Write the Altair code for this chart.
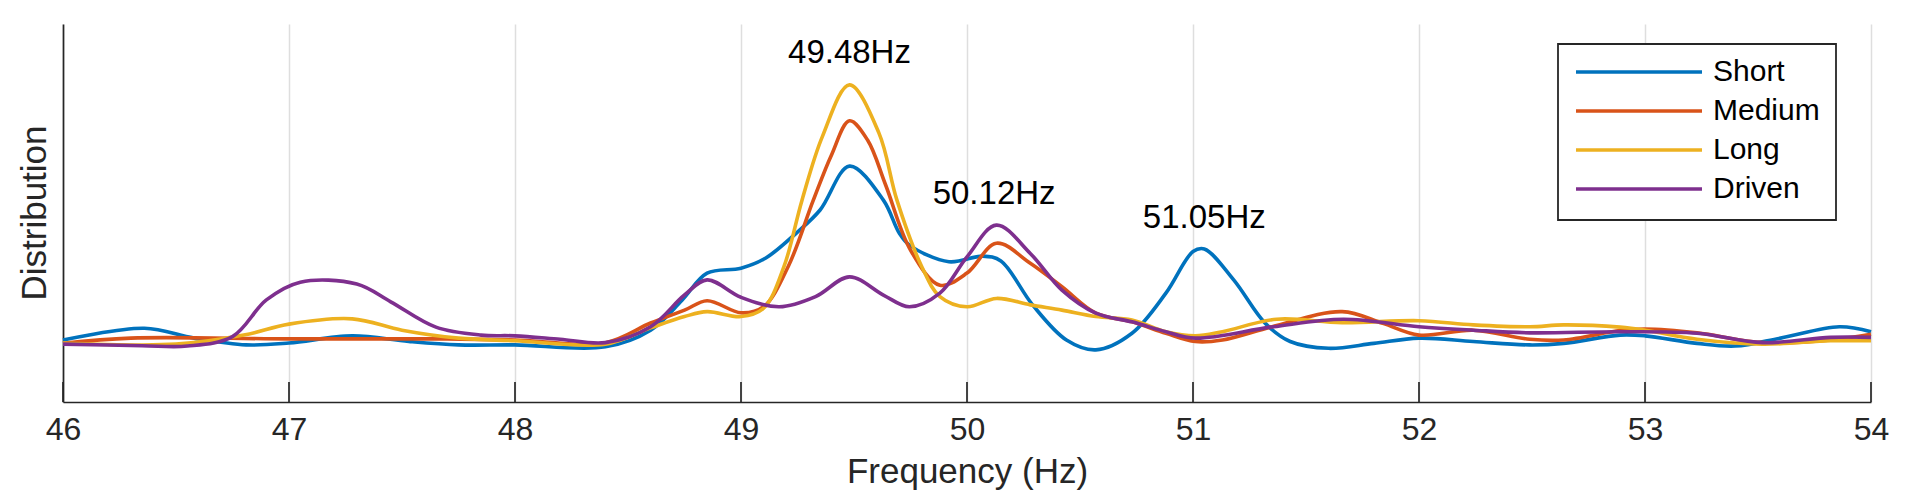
import altair as alt
import pandas as pd

# ---------------- data ----------------
series_names = ["Short", "Medium", "Long", "Driven"]
series_colors = ["#0072BD", "#D95319", "#EDB120", "#7E2F8E"]

short_freq = [46.0, 46.36, 46.58, 46.81, 47.0, 47.28, 47.53, 47.75, 48.0, 48.4,
              48.6, 48.74, 48.85, 49.0, 49.11, 49.245, 49.35, 49.48, 49.63, 49.70,
              49.745, 49.92, 50.07, 50.15, 50.29, 50.44, 50.57, 50.73, 50.88, 51.0,
              51.05, 51.18, 51.32, 51.43, 51.6, 51.8, 52.0, 52.24, 52.49, 52.64,
              52.89, 53.0, 53.23, 53.4, 53.6, 53.86, 54.0]
short_dist = [16.4, 19.5, 16.9, 15.1, 15.6, 17.5, 16.0, 15.1, 15.1, 14.6,
              19.0, 27.0, 34.1, 35.4, 38.1, 44.7, 50.8, 62.4, 53.4, 44.7,
              41.5, 37.1, 38.6, 37.3, 25.7, 16.4, 13.8, 18.2, 28.8, 39.8,
              40.5, 32.3, 20.8, 16.0, 14.2, 15.5, 16.9, 16.0, 15.1, 15.5,
              17.7, 17.5, 15.5, 14.8, 16.9, 19.9, 18.6]

medium_freq = [46.0, 46.3, 47.0, 47.7, 48.0, 48.4, 48.6, 48.75, 48.85, 49.0,
               49.1, 49.21, 49.32, 49.4, 49.48, 49.56, 49.64, 49.75, 49.88, 50.0,
               50.13, 50.28, 50.42, 50.57, 50.73, 50.88, 51.01, 51.13, 51.35, 51.66,
               51.84, 52.0, 52.24, 52.49, 52.64, 52.89, 53.0, 53.23, 53.52, 53.82, 54.0]
medium_dist = [15.5, 16.9, 16.7, 16.7, 16.4, 15.7, 20.9, 24.3, 26.8, 23.6,
               25.2, 36.0, 53.4, 65.3, 74.4, 69.3, 57.4, 40.2, 30.9, 34.1,
               42.0, 36.7, 30.5, 23.5, 21.2, 18.2, 16.0, 16.4, 19.9, 23.9,
               20.8, 17.7, 19.0, 16.6, 16.4, 18.9, 19.3, 18.3, 15.7, 16.4, 17.9]

long_freq = [46.0, 46.5, 46.8, 47.0, 47.28, 47.5, 47.75, 48.0, 48.4, 48.6,
             48.75, 48.85, 49.0, 49.1, 49.19, 49.27, 49.36, 49.48, 49.61, 49.69,
             49.80, 49.88, 50.0, 50.13, 50.28, 50.42, 50.57, 50.73, 50.88, 51.01,
             51.13, 51.37, 51.66, 52.0, 52.24, 52.49, 52.64, 52.89, 53.0, 53.23,
             53.52, 53.82, 54.0]
long_dist = [15.6, 15.3, 17.7, 20.6, 22.0, 19.0, 16.9, 16.2, 15.3, 19.6,
             22.6, 23.9, 22.6, 24.8, 35.8, 53.4, 70.2, 83.9, 71.2, 53.4,
             35.8, 27.9, 25.2, 27.4, 25.7, 24.3, 22.6, 21.7, 18.6, 17.5,
             18.6, 21.9, 21.0, 21.5, 20.4, 19.9, 20.4, 19.8, 19.0, 16.6,
             15.3, 16.2, 16.2]

driven_freq = [46.0, 46.35, 46.55, 46.75, 46.9, 47.05, 47.3, 47.45, 47.65, 47.85,
               48.0, 48.2, 48.4, 48.6, 48.75, 48.85, 49.0, 49.17, 49.33, 49.48,
               49.63, 49.745, 49.88, 50.0, 50.13, 50.28, 50.42, 50.57, 50.73, 50.88,
               51.01, 51.355, 51.665, 52.0, 52.24, 52.49, 52.89, 53.23, 53.52, 53.82, 54.0]
driven_dist = [15.3, 14.9, 14.8, 17.3, 27.0, 31.7, 31.2, 26.5, 19.8, 17.7,
               17.5, 16.6, 15.7, 19.9, 28.3, 32.3, 27.7, 25.2, 27.9, 33.1,
               28.3, 25.2, 28.8, 38.4, 46.8, 39.3, 29.6, 23.5, 21.2, 18.6,
               16.9, 19.9, 21.9, 19.9, 19.0, 18.3, 18.6, 18.2, 15.7, 17.1, 17.1]

peak_freqs = [49.48, 50.12, 51.05]
peak_labels = ["49.48Hz", "50.12Hz", "51.05Hz"]
peak_label_heights = [89.6, 52.4, 45.9]

tick_values = [46, 47, 48, 49, 50, 51, 52, 53, 54]

# ---------------- tables ----------------
rows = []
for name, fs, vs in zip(series_names,
                        [short_freq, medium_freq, long_freq, driven_freq],
                        [short_dist, medium_dist, long_dist, driven_dist]):
    for f, v in zip(fs, vs):
        rows.append({"series": name, "freq": f, "dist": v})
df = pd.DataFrame(rows)

peaks_df = pd.DataFrame({"freq": peak_freqs, "dist": peak_label_heights, "label": peak_labels})
ticks_df = pd.DataFrame({"freq": tick_values})

FONT = "Liberation Sans"
AXC = "#262626"

x_scale = alt.Scale(domain=[46, 54], nice=False, zero=False)
y_scale = alt.Scale(domain=[0, 100], nice=False, zero=False)

x_axis = alt.Axis(
    values=tick_values, format="d", grid=True, gridColor="#dedede", gridWidth=1.5,
    ticks=False, domainColor=AXC, domainWidth=1.7,
    labelFont=FONT, labelFontSize=32, labelColor=AXC, labelBaseline="alphabetic",
    labelPadding=37, labelFlush=False, labelOverlap=False,
    titleFont=FONT, titleFontSize=35, titleColor=AXC, titleFontWeight="normal",
    titleX=904, titleY=80.7, titleAlign="center", titleBaseline="alphabetic",
)
y_axis = alt.Axis(
    labels=False, ticks=False, grid=False, domainColor=AXC, domainWidth=1.7,
    titleFont=FONT, titleFontSize=35, titleColor=AXC, titleFontWeight="normal",
    titleX=-18, titleY=188.5, titleAngle=270, titleAlign="center", titleBaseline="alphabetic",
)

X = alt.X("freq:Q", scale=x_scale, axis=x_axis, title="Frequency (Hz)")
Y = alt.Y("dist:Q", scale=y_scale, axis=y_axis, title="Distribution")

lines = alt.Chart(df).mark_line(strokeWidth=3.6, interpolate="catmull-rom").encode(
    x=X,
    y=Y,
    color=alt.Color(
        "series:N",
        scale=alt.Scale(domain=series_names, range=series_colors),
        sort=series_names,
        legend=alt.Legend(
            title=None, orient="none", legendX=1495, legendY=20, direction="vertical",
            symbolType="stroke", symbolSize=15876, symbolStrokeWidth=3.6,
            labelFont=FONT, labelFontSize=30, labelColor="black", labelLimit=400,
            padding=16, strokeColor=AXC, fillColor="white",
            clipHeight=24, rowPadding=9, labelOffset=9, symbolOffset=0,
        ),
    ),
)

tick_rules = alt.Chart(ticks_df).mark_rule(color=AXC, strokeWidth=1.7).encode(
    x=X,
    y=alt.value(358),
    y2=alt.value(378),
)

texts = alt.Chart(peaks_df).mark_text(
    font=FONT, fontSize=33, color="black", align="center", baseline="alphabetic"
).encode(
    x=X,
    y=Y,
    text="label:N",
)

chart = alt.layer(lines, tick_rules, texts).properties(
    width=1808, height=378,
    autosize=alt.AutoSizeParams(type="none"),
    padding={"left": 63, "top": 24, "right": 40, "bottom": 102},
    background="white",
).configure_view(stroke=None).configure_legend(strokeWidth=1.8)

chart.save("out.html", embed_options={"renderer": "svg", "actions": False})
